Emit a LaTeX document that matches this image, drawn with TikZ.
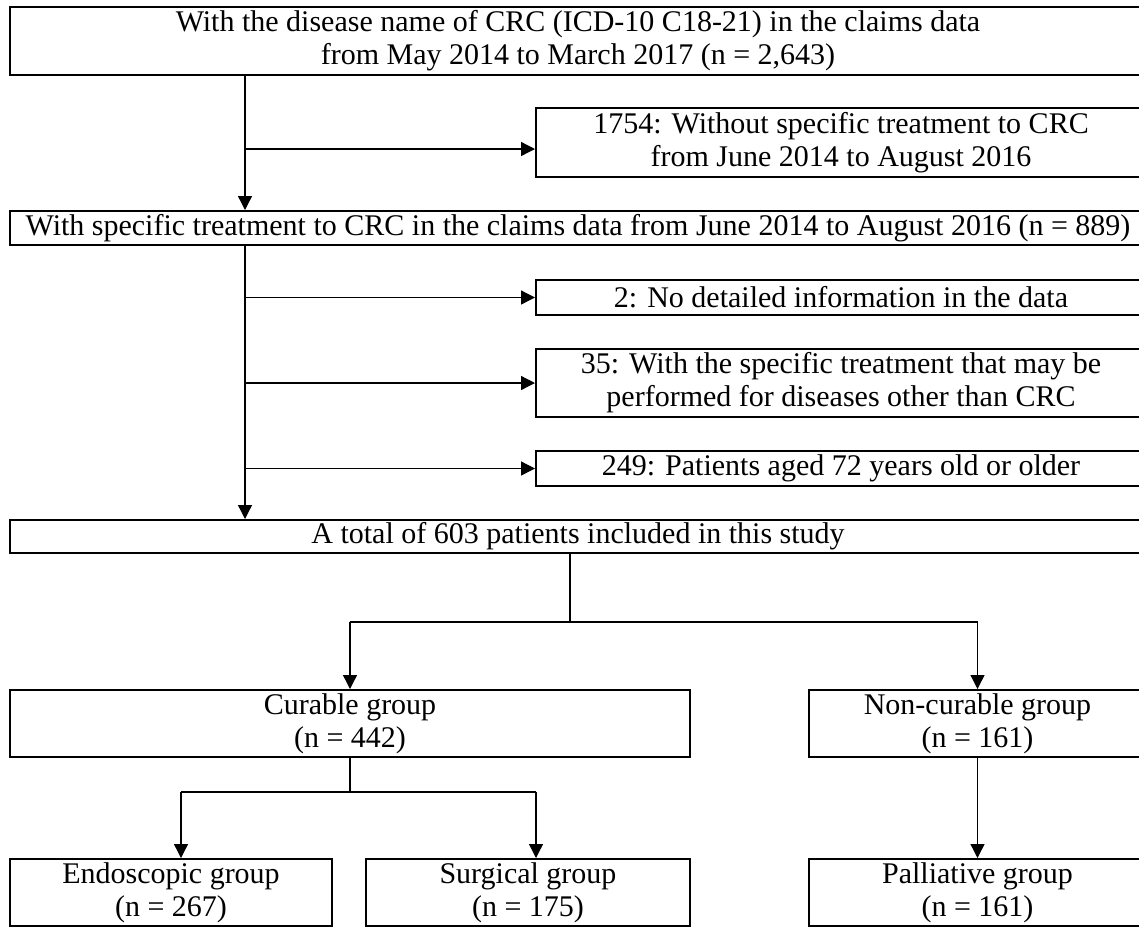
\documentclass[tikz,border=0pt]{standalone}
\usepackage{fontspec}
\setmainfont{Liberation Serif}
\usetikzlibrary{arrows.meta}

\begin{document}
	\begin{tikzpicture}[x=1pt,y=-1pt,
			>={Triangle[length=14pt,width=14pt]},
			boxNode/.style={draw,line width=2pt,inner sep=0pt,align=center,font=\fontsize{30}{33}\selectfont},
			arrowLine/.style={line width=1.3pt},
			barLine/.style={line width=2pt},
		]

		\useasboundingbox (0,0) rectangle (1139,927);

		\node[boxNode,minimum width=1136pt,minimum height=68pt] (topBox) at (578,41) {With the disease name of CRC (ICD-10 C18-21) in the claims data\\from May 2014 to March 2017 (n = 2,643)};
		\node[boxNode,minimum width=610pt,minimum height=69pt] (exclA) at (841,142.5) {1754: Without specific treatment to CRC\\from June 2014 to August 2016};
		\node[boxNode,minimum width=1136pt,minimum height=34pt] (specBox) at (578,228) {With specific treatment to CRC in the claims data from June 2014 to August 2016 (n = 889)};
		\node[boxNode,minimum width=610pt,minimum height=35pt] (exclB) at (841,297.5) {2: No detailed information in the data};
		\node[boxNode,minimum width=610pt,minimum height=68pt] (exclC) at (841,383) {35: With the specific treatment that may be\\performed for diseases other than CRC};
		\node[boxNode,minimum width=610pt,minimum height=35pt] (exclD) at (841,468.5) {249: Patients aged 72 years old or older};
		\node[boxNode,minimum width=1136pt,minimum height=33pt] (totalBox) at (578,536.5) {A total of 603 patients included in this study};

		\node[boxNode,minimum width=680pt,minimum height=67pt] (curable) at (350,723.5) {Curable group\\(n = 442)};
		\node[boxNode,minimum width=337pt,minimum height=67pt] (nonCurable) at (977.5,723.5) {Non-curable group\\(n = 161)};
		\node[boxNode,minimum width=322pt,minimum height=67pt] (endoscopic) at (171,892.5) {Endoscopic group\\(n = 267)};
		\node[boxNode,minimum width=324pt,minimum height=67pt] (surgical) at (528,892.5) {Surgical group\\(n = 175)};
		\node[boxNode,minimum width=337pt,minimum height=67pt] (palliative) at (977.5,892.5) {Palliative group\\(n = 161)};

		% exclusion steps
		\coordinate (trunk) at (245,0);
		\coordinate (splitA) at (245,149);
		\draw[arrowLine,->] (topBox.south -| trunk) -- (specBox.north -| trunk);
		\draw[arrowLine,->] (splitA) -- (exclA.west |- splitA);
		\draw[arrowLine,->] (specBox.south -| trunk) -- (totalBox.north -| trunk);
		\foreach \n in {exclB,exclC,exclD}
			\draw[arrowLine,->] (\n.west -| trunk) -- (\n.west);

		% groups
		\coordinate (fork) at (570,622);
		\coordinate (forkL) at (181,792);
		\coordinate (forkR) at (536,792);
		\draw[barLine] (totalBox.south -| fork) -- (fork);
		\draw[barLine] (curable.north |- fork) -- (fork -| nonCurable.north);
		\draw[arrowLine,->] (curable.north |- fork) -- (curable.north);
		\draw[arrowLine,->] (fork -| nonCurable.north) -- (nonCurable.north);
		\draw[barLine] (curable.south) -- (curable.south |- forkL);
		\draw[barLine] (forkL) -- (forkR);
		\draw[arrowLine,->] (forkL) -- (endoscopic.north -| forkL);
		\draw[arrowLine,->] (forkR) -- (surgical.north -| forkR);
		\draw[arrowLine,->] (nonCurable.south) -- (palliative.north);

	\end{tikzpicture}
\end{document}
